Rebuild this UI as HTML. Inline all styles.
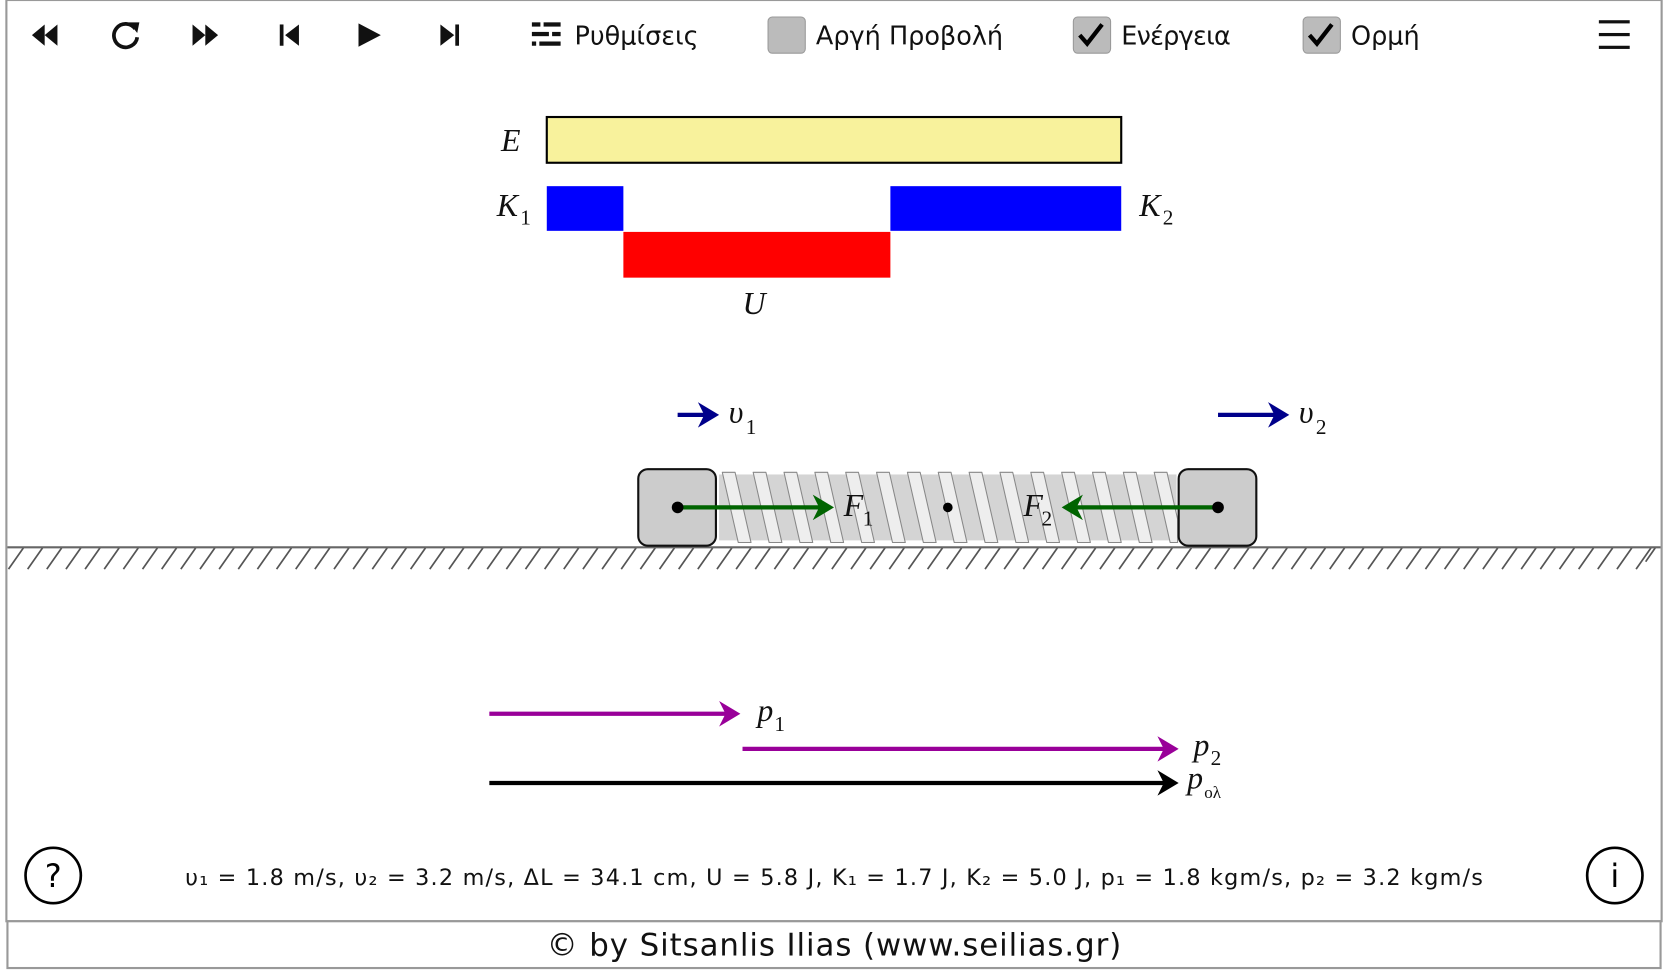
<!DOCTYPE html>
<html><head><meta charset="utf-8"><style>
html,body{margin:0;padding:0;background:#fff;overflow:hidden}
#w{width:1568px;height:915px;transform:scale(1.06378);transform-origin:0 0;position:relative}
svg{position:absolute;left:0;top:0}
</style></head><body><div id="w">
<svg width="1568" height="915" viewBox="0 0 1568 915" font-family="DejaVu Sans, Liberation Sans, sans-serif">
<defs>
<marker id="a" markerWidth="6" markerHeight="6" refX="4" refY="3" orient="auto" markerUnits="strokeWidth"><path d="M0,0 L5,3 L0,6 L1.5,3z" fill="context-stroke"/></marker>
</defs>
<rect x="6" y="0" width="1556" height="866" fill="none" stroke="#999" stroke-width="2"/>
<rect x="7" y="866" width="1554" height="44" fill="#fff" stroke="#999" stroke-width="2"/>
<!-- toolbar -->
<g fill="#111">
<path d="M30 33l12-10v20zM42 33l12-10v20z"/>
<path d="M181 23l12 10-12 10zM193 23l12 10-12 10z"/>
<rect x="263" y="23" width="3.5" height="20"/><path d="M281 23v20l-13-10z"/>
<path d="M337 22l21 11-21 11z"/>
<path d="M414 23l13 10-13 10z"/><rect x="428" y="23" width="3.5" height="20"/>
</g>
<path d="M127 27a11 11 0 1 0 2 8" fill="none" stroke="#111" stroke-width="3.5"/><path d="M121 21l10 0-2 10z" fill="#111"/>
<g fill="#111"><rect x="500" y="21" width="8" height="4"/><rect x="511" y="21" width="16" height="4"/><rect x="500" y="30" width="16" height="4"/><rect x="519" y="30" width="8" height="4"/><rect x="500" y="39" width="4" height="4"/><rect x="507" y="39" width="20" height="4"/></g>
<text x="540" y="42" font-size="24" fill="#111">Ρυθμίσεις</text>
<rect x="722" y="16" width="35" height="34" rx="4" fill="#bbb" stroke="#999"/>
<text x="767" y="42" font-size="24" fill="#111">Αργή Προβολή</text>
<rect x="1009" y="16" width="35" height="34" rx="4" fill="#bbb" stroke="#999"/>
<path d="M1015 33l7 8 14-18" fill="none" stroke="#000" stroke-width="4"/>
<text x="1054" y="42" font-size="24" fill="#111" textLength="103">Ενέργεια</text>
<rect x="1225" y="16" width="35" height="34" rx="4" fill="#bbb" stroke="#999"/>
<path d="M1231 33l7 8 14-18" fill="none" stroke="#000" stroke-width="4"/>
<text x="1270" y="42" font-size="24" fill="#111">Ορμή</text>
<g fill="#111"><rect x="1503" y="19" width="29" height="3"/><rect x="1503" y="31" width="29" height="3"/><rect x="1503" y="43" width="29" height="3"/></g>
<!-- energy bars -->
<rect x="514" y="110" width="540" height="43" fill="#f8f29c" stroke="#000" stroke-width="2"/>
<rect x="514" y="175" width="72" height="42" fill="#0000ff"/>
<rect x="837" y="175" width="217" height="42" fill="#0000ff"/>
<rect x="586" y="218" width="251" height="43" fill="#ff0000"/>
<g font-family="Liberation Serif, serif" font-style="italic" font-size="30" fill="#111">
<text x="471" y="142">E</text>
<text x="467" y="203">K</text><text x="489" y="211" font-size="20" font-style="normal">1</text>
<text x="1071" y="203">K</text><text x="1093" y="211" font-size="20" font-style="normal">2</text>
<text x="698" y="295">U</text>
<text x="685" y="397">υ</text><text x="701" y="408" font-size="20" font-style="normal">1</text>
<text x="1221" y="397">υ</text><text x="1237" y="408" font-size="20" font-style="normal">2</text>
<text x="712" y="678">p</text><text x="728" y="687" font-size="20" font-style="normal">1</text>
<text x="1122" y="710">p</text><text x="1138" y="719" font-size="20" font-style="normal">2</text>
<text x="1116" y="741">p</text><text x="1132" y="750" font-size="16" font-style="normal">ολ</text>
</g>
<line x1="637" y1="390" x2="672" y2="390" stroke="#00008b" stroke-width="4" marker-end="url(#a)"/>
<line x1="1145" y1="390" x2="1208" y2="390" stroke="#00008b" stroke-width="4" marker-end="url(#a)"/>
<!-- ground -->
<path d="M8 535l14-20M26 535l14-20M44 535l14-20M62 535l14-20M80 535l14-20M98 535l14-20M116 535l14-20M134 535l14-20M152 535l14-20M170 535l14-20M188 535l14-20M206 535l14-20M224 535l14-20M242 535l14-20M260 535l14-20M278 535l14-20M296 535l14-20M314 535l14-20M332 535l14-20M350 535l14-20M368 535l14-20M386 535l14-20M404 535l14-20M422 535l14-20M440 535l14-20M458 535l14-20M476 535l14-20M494 535l14-20M512 535l14-20M530 535l14-20M548 535l14-20M566 535l14-20M584 535l14-20M602 535l14-20M620 535l14-20M638 535l14-20M656 535l14-20M674 535l14-20M692 535l14-20M710 535l14-20M728 535l14-20M746 535l14-20M764 535l14-20M782 535l14-20M800 535l14-20M818 535l14-20M836 535l14-20M854 535l14-20M872 535l14-20M890 535l14-20M908 535l14-20M926 535l14-20M944 535l14-20M962 535l14-20M980 535l14-20M998 535l14-20M1016 535l14-20M1034 535l14-20M1052 535l14-20M1070 535l14-20M1088 535l14-20M1106 535l14-20M1124 535l14-20M1142 535l14-20M1160 535l14-20M1178 535l14-20M1196 535l14-20M1214 535l14-20M1232 535l14-20M1250 535l14-20M1268 535l14-20M1286 535l14-20M1304 535l14-20M1322 535l14-20M1340 535l14-20M1358 535l14-20M1376 535l14-20M1394 535l14-20M1412 535l14-20M1430 535l14-20M1448 535l14-20M1466 535l14-20M1484 535l14-20M1502 535l14-20M1520 535l14-20M1538 535l14-20M1547 528l9-13" stroke="#555" stroke-width="1.6"/>
<line x1="7" y1="514.5" x2="1561" y2="514.5" stroke="#666" stroke-width="2"/>
<!-- spring -->
<rect x="676" y="446" width="430" height="62" fill="#d4d4d4"/>
<g fill="#eee" stroke="#888" stroke-width="1" stroke-linejoin="round">
<path d="M679 444h12l15 66h-12z"/><path d="M708 444h12l15 66h-12z"/><path d="M737 444h12l15 66h-12z"/><path d="M766 444h12l15 66h-12z"/><path d="M795 444h12l15 66h-12z"/><path d="M824 444h12l15 66h-12z"/><path d="M853 444h12l15 66h-12z"/><path d="M882 444h12l15 66h-12z"/><path d="M911 444h12l15 66h-12z"/><path d="M940 444h12l15 66h-12z"/><path d="M969 444h12l15 66h-12z"/><path d="M998 444h12l15 66h-12z"/><path d="M1027 444h12l15 66h-12z"/><path d="M1056 444h12l15 66h-12z"/><path d="M1085 444h12l10 44v22h-7z"/>
</g>
<rect x="600" y="441" width="73" height="72" rx="9" fill="#ccc" stroke="#111" stroke-width="2"/>
<rect x="1108" y="441" width="73" height="72" rx="9" fill="#ccc" stroke="#111" stroke-width="2"/>
<line x1="637" y1="477" x2="780" y2="477" stroke="#006400" stroke-width="4" marker-end="url(#a)"/>
<line x1="1145" y1="477" x2="1002" y2="477" stroke="#006400" stroke-width="4" marker-end="url(#a)"/>
<circle cx="637" cy="477" r="5.5" fill="#000"/><circle cx="1145" cy="477" r="5.5" fill="#000"/><circle cx="891" cy="477" r="4.5" fill="#000"/>
<g font-family="Liberation Serif, serif" font-style="italic" font-size="30" fill="#111">
<text x="793" y="485">F</text><text x="811" y="494" font-size="20" font-style="normal">1</text>
<text x="962" y="485">F</text><text x="979" y="494" font-size="20" font-style="normal">2</text>
</g>
<!-- momentum -->
<line x1="460" y1="671" x2="692" y2="671" stroke="#990099" stroke-width="4" marker-end="url(#a)"/>
<line x1="698" y1="704" x2="1104" y2="704" stroke="#990099" stroke-width="4" marker-end="url(#a)"/>
<line x1="460" y1="736" x2="1104" y2="736" stroke="#000" stroke-width="4" marker-end="url(#a)"/>
<!-- bottom -->
<circle cx="50" cy="823" r="26" fill="none" stroke="#000" stroke-width="2.5"/>
<text x="50" y="834" font-size="30" text-anchor="middle" fill="#000">?</text>
<circle cx="1518" cy="823" r="26" fill="none" stroke="#000" stroke-width="2.5"/>
<text x="1518" y="834" font-size="30" text-anchor="middle" fill="#000">i</text>
<text x="784" y="832" font-size="21" text-anchor="middle" fill="#111" textLength="1220">υ₁ = 1.8 m/s, υ₂ = 3.2 m/s, ΔL = 34.1 cm, U = 5.8 J, K₁ = 1.7 J, K₂ = 5.0 J, p₁ = 1.8 kgm/s, p₂ = 3.2 kgm/s</text>
<text x="784" y="898" font-size="29" text-anchor="middle" fill="#111" textLength="540">© by Sitsanlis Ilias (www.seilias.gr)</text>
</svg></div></body></html>
